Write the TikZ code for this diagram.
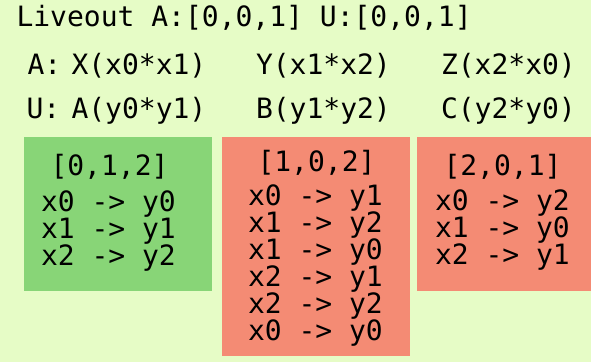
\documentclass[tikz,border=0pt]{standalone}
\usepackage{fontspec}
\setmonofont{DejaVu Sans Mono}
\usepackage{tikz}
\usetikzlibrary{positioning}
\usepackage{xcolor}

\definecolor{paper}{HTML}{E6FCC6}
\definecolor{okgreen}{HTML}{88D577}
\definecolor{badred}{HTML}{F48B74}

\begin{document}
\begin{tikzpicture}[
    x=1pt, y=-1pt,
    every node/.style={inner sep=0pt, outer sep=0pt, font=\ttfamily\fontsize{28}{27}\selectfont},
    code/.style={anchor=base west},
    maplist/.style={anchor=base west, align=left}
]
    % background and its size
    \fill[paper] (0,0) rectangle (591,362);
    \useasboundingbox (0,0) rectangle (591,362);

    % header lines
    \node[code] (live) at (16.5,26) {Liveout A:[0,0,1] U:[0,0,1]};
    \node[code] (rowA) at (27.5,74) {A:};
    \node[code] (fX) at (71.5,74) {X(x0*x1)};
    \node[code] (fY) at (256,74) {Y(x1*x2)};
    \node[code] (fZ) at (441,74) {Z(x2*x0)};
    \node[code] (rowU) at (26.5,118) {U:};
    \node[code] (fA) at (71.5,118) {A(y0*y1)};
    \node[code] (fB) at (256,118) {B(y1*y2)};
    \node[code] (fC) at (441,118) {C(y2*y0)};

    % the three permutations (list anchored at its last line)
    \fill[okgreen] (24,137) rectangle (212,291);
    \fill[badred] (222,137) rectangle (410,356);
    \fill[badred] (417,137) rectangle (591,291);

    \node[code] (p012) at (50.5,175) {[0,1,2]};
    \node[maplist] (m012) at (41,265) {x0 -> y0\\x1 -> y1\\x2 -> y2};

    \node[code] (p102) at (257.5,171) {[1,0,2]};
    \node[maplist] (m102) at (248,340)
        {x0 -> y1\\x1 -> y2\\x1 -> y0\\x2 -> y1\\x2 -> y2\\x0 -> y0};

    \node[code] (p201) at (443.5,175) {[2,0,1]};
    \node[maplist] (m201) at (435,264) {x0 -> y2\\x1 -> y0\\x2 -> y1};
\end{tikzpicture}
\end{document}
